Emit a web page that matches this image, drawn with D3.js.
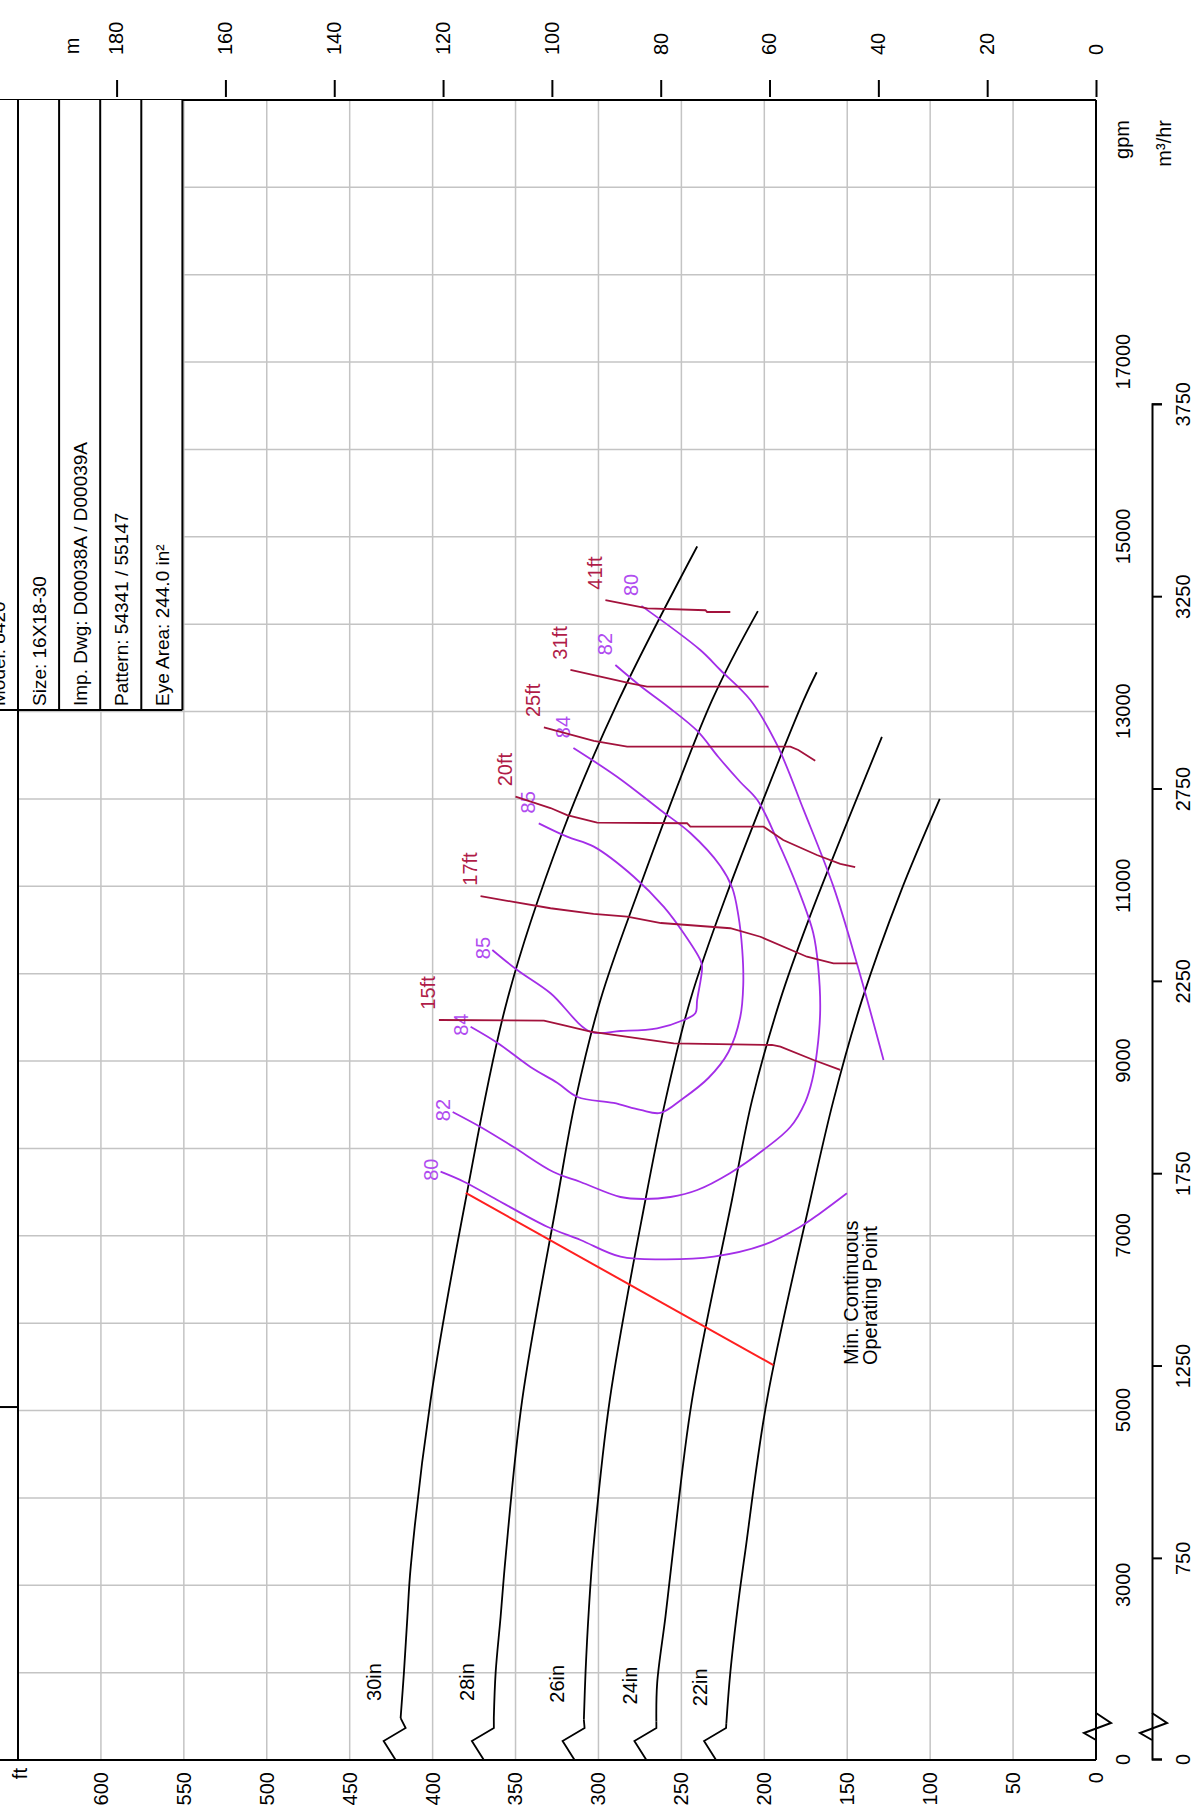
<!DOCTYPE html>
<html><head><meta charset="utf-8">
<script src="https://cdn.jsdelivr.net/npm/d3@7"></script>
<style>
html,body{margin:0;padding:0;background:#fff;}
svg{display:block;font-family:"Liberation Sans",Arial,sans-serif;}
</style></head><body>
<svg id="chart" width="1201" height="1806"></svg>
<script>
// ---------------- DATA ----------------
const GPM_TO_M3H = 0.2271247, FT_TO_M = 0.3048;
const flowDomain = [1000, 20000];          // axis is broken: "0" is drawn at the 1000 gpm position
const headDomain = [0, 650];
const gpmTicks = [1000, 3000, 5000, 7000, 9000, 11000, 13000, 15000, 17000];
const gpmTickLabels = ["0", "3000", "5000", "7000", "9000", "11000", "13000", "15000", "17000"];
const gpmGrid = [2000,3000,4000,5000,6000,7000,8000,9000,10000,11000,12000,13000,14000,15000,16000,17000,18000,19000];
const m3hTicks = [227.1247, 750, 1250, 1750, 2250, 2750, 3250, 3750];
const m3hTickLabels = ["0", "750", "1250", "1750", "2250", "2750", "3250", "3750"];
const headTicks = [0, 50, 100, 150, 200, 250, 300, 350, 400, 450, 500, 550, 600];
const headGrid = [50, 100, 150, 200, 250, 300, 350, 400, 450, 500, 550, 600];
const meterTicks = [0, 20, 40, 60, 80, 100, 120, 140, 160, 180];

const tableRows = ["Model: 8420", "Size: 16X18-30", "Imp. Dwg: D00038A / D00039A", "Pattern: 54341 / 55147", "Eye Area: 244.0 in²"];

// impeller head curves [gpm, ft]
const diameterLabels = ["30in", "28in", "26in", "24in", "22in"];
const shutoffHeads = [422.3, 369.1, 314.4, 271.1, 229.1];
const curve30 = [[1480,419.3],[2000,417.3],[2640,415.2],[3210,413.2],[5120,401.2],[7410,380.1],[9700,355.0],[11610,321.9],[13130,287.8],[14890,240.5]];
const curve28 = [[1480,363.1],[2000,362.0],[2640,359.0],[3320,356.0],[5120,346.0],[7410,324.9],[8550,313.9],[9700,298.8],[10840,278.0],[13130,231.5],[14150,203.9]];
const curve26 = [[1460,308.8],[2000,307.8],[2720,305.8],[3400,303.2],[5120,293.2],[7410,271.7],[8550,259.6],[9700,244.6],[10840,224.0],[13130,176.3],[13450,168.4]];
const curve24 = [[1440,265.1],[1880,264.6],[2640,259.6],[3400,255.0],[5120,243.6],[7410,219.5],[8550,207.4],[9700,190.4],[10630,173.0],[12710,129.1]];
const curve22 = [[1420,222.9],[2000,220.5],[2830,215.5],[3400,211.4],[5120,198.4],[7410,172.3],[8550,158.3],[9700,141.1],[10920,118.1],[12000,94.2]];

// efficiency contours [gpm, ft] (first point = low-flow end)
const eff80Low  = [[7734,395.2],[7619,381.1],[7410,361.0],[7104,330.9],[6952,310.8],[6761,286.7],[6731,260.7],[6761,230.5],[6895,200.4],[7104,178.3],[7258,166.3],[7486,150.2]];
const eff80High = [[9012,128.1],[10119,144.2],[10996,158.3],[11874,176.3],[12618,192.3],[13133,208.4],[13476,226.5],[13705,238.6],[14210,274.1]];
const eff82 = [[8417,387.9],[8245,371.1],[8016,351.2],[7730,327.1],[7616,310.8],[7444,286.7],[7421,272.9],[7444,256.6],[7524,240.4],[7719,220.5],[7982,200.6],[8245,184.3],[8531,175.3],[8783,171.1],[9127,168.1],[9585,166.3],[10077,167.5],[10466,170.5],[10992,180.1],[11530,192.2],[11988,204.2],[12194,214.5],[12480,227.7],[12778,240.4],[13053,257.9],[13293,274.7],[13533,289.8]];
const eff84 = [[9393,377.1],[9207,360.8],[8932,341.0],[8749,324.7],[8589,312.6],[8520,290.9],[8440,274.7],[8406,262.7],[8566,249.4],[8806,233.7],[9104,221.6],[9504,214.5],[9871,212.7],[10271,213.3],[10672,215.7],[10981,219.3],[11233,226.5],[11610,244.6],[11874,262.7],[12251,288.6],[12583,315.1]];
const eff85 = [[10271,364.0],[10042,349.0],[9776,328.9],[9336,304.8],[9344,286.7],[9375,264.6],[9470,248.6],[9547,241.6],[9699,240.5],[10080,237.5],[10157,238.6],[10462,248.6],[10767,260.7],[11110,278.7],[11454,302.8],[11568,318.9],[11721,336.0]];
const effNames = ["80", "80", "82", "84", "85"];
const effLabelLow  = [true, false, true, true, true];
const effLabelHigh = [false, true, true, true, true];

// NPSH required lines [gpm, ft]
const npshLabels = ["15ft", "17ft", "20ft", "25ft", "31ft", "41ft"];
const npsh15 = [[9470,396.2],[9462,332.9],[9413,321.9],[9336,304.8],[9203,254.6],[9184,195.4],[9164,190.3],[9012,170.3],[8898,154.2]];
const npsh17 = [[10889,371.1],[10821,351.2],[10749,328.9],[10684,303.0],[10653,282.7],[10580,262.3],[10520,220.5],[10423,202.4],[10194,174.3],[10119,158.3],[10119,144.2]];
const npsh20 = [[12026,350.0],[11896,328.9],[11815,318.9],[11729,300.8],[11722,246.6],[11683,244.6],[11683,200.4],[11530,188.6],[11358,168.3],[11256,154.2],[11221,145.2]];
const npsh25 = [[12820,332.9],[12664,302.8],[12599,282.7],[12599,184.3],[12561,179.5],[12438,169.3]];
const npsh31 = [[13476,316.9],[13324,280.7],[13285,270.7],[13285,197.4]];
const npsh41 = [[14277,295.8],[14182,270.5],[14160,235.5],[14140,234.5],[14140,220.5]];

// minimum continuous operating point line
const minFlowLine = [[7490,380.0],[5520,194.5]];
const minFlowText = ["Min. Continuous", "Operating Point"];

// ---------------- DRAW ----------------
const W = 1660, H = 1078;
const FONT = 20, TABLE_FONT = 19;
const cEff = "#a32ee8", cEffTxt = "#b04cf0", cNpsh = "#a3123c", cNpshTxt = "#b01c48";

const svg = d3.select("#chart");
svg.append("rect").attr("width",1201).attr("height",1806).attr("fill","#fff");
// chart drawn unrotated, then rotated -90deg (flow runs upward, head runs leftward)
const g = svg.append("g").attr("transform","translate(18,1760) rotate(-90)");

const x = d3.scaleLinear().domain(flowDomain).range([0, W]);
const y = d3.scaleLinear().domain(headDomain).range([H, 0]);
const ym = d3.scaleLinear().domain(headDomain.map(d=>d*FT_TO_M)).range([H, 0]);
const m3End = x(3750 / GPM_TO_M3H);
const xm = d3.scaleLinear().domain([flowDomain[0]*GPM_TO_M3H, 3750]).range([0, m3End]);

// grid
g.append("g").selectAll("line").data(gpmGrid).join("line")
  .attr("x1",d=>x(d)).attr("x2",d=>x(d)).attr("y1",0).attr("y2",H)
  .attr("stroke","#c4c4c4").attr("stroke-width",1.5);
g.append("g").selectAll("line").data(headGrid).join("line")
  .attr("x1",0).attr("x2",W).attr("y1",d=>y(d)).attr("y2",d=>y(d))
  .attr("stroke","#c4c4c4").attr("stroke-width",1.5);

// frame (extends into the clipped title block on the left of the page)
const frame = g.append("g").attr("stroke","#000").attr("stroke-width",2).attr("fill","none");
frame.append("line").attr("x1",0).attr("x2",0).attr("y1",-30).attr("y2",H);
frame.append("line").attr("x1",W).attr("x2",W).attr("y1",-30).attr("y2",H);
frame.append("line").attr("x1",0).attr("x2",W).attr("y1",0).attr("y2",0);
frame.append("line").attr("x1",0).attr("x2",W).attr("y1",H).attr("y2",H);
frame.append("line").attr("x1",x(5040)).attr("x2",x(5040)).attr("y1",-30).attr("y2",0);

// info table
const rowH = 41.1, tableU = 1050;
const tbl = g.append("g");
tbl.append("rect").attr("x",tableU).attr("y",-30).attr("width",W-tableU).attr("height",30+4*rowH).attr("fill","#fff");
tbl.append("line").attr("x1",tableU).attr("x2",tableU).attr("y1",-30).attr("y2",4*rowH).attr("stroke","#000").attr("stroke-width",2);
tbl.selectAll("line.row").data([1,2,3,4]).join("line").attr("class","row")
  .attr("x1",tableU).attr("x2",W).attr("y1",d=>d*rowH).attr("y2",d=>d*rowH)
  .attr("stroke","#000").attr("stroke-width",2);
tbl.selectAll("text").data(tableRows).join("text")
  .attr("x",tableU+4).attr("y",(d,i)=>(i-1)*rowH+28)
  .attr("font-size",TABLE_FONT).attr("fill","#000").text(d=>d);
g.append("line").attr("x1",0).attr("x2",W).attr("y1",0).attr("y2",0).attr("stroke","#000").attr("stroke-width",2);

// axes
const axFlow = g.append("g").attr("transform",`translate(0,${H})`)
  .call(d3.axisBottom(x).tickValues(gpmTicks).tickFormat((d,i)=>gpmTickLabels[i]).tickSize(0).tickPadding(20));
axFlow.select(".domain").remove();
const axM3 = g.append("g").attr("transform",`translate(0,${H+56})`)
  .call(d3.axisBottom(xm).tickValues(m3hTicks).tickFormat((d,i)=>m3hTickLabels[i]).tickSize(10).tickSizeOuter(10).tickPadding(14));
axM3.selectAll("path,line").attr("stroke","#000").attr("stroke-width",2);
const axHead = g.append("g")
  .call(d3.axisLeft(y).tickValues(headTicks).tickFormat(d3.format("d")).tickSize(0).tickPadding(12));
axHead.select(".domain").remove();
const axM = g.append("g").attr("transform",`translate(${W+3},0)`)
  .call(d3.axisRight(ym).tickValues(meterTicks).tickFormat(d3.format("d")).tickSize(17).tickPadding(25));
axM.select(".domain").remove();
axM.selectAll("line").attr("stroke","#000").attr("stroke-width",2);
[axFlow, axM3, axHead, axM].forEach(a => a.attr("font-size",FONT).attr("font-family",null)
  .selectAll("text").attr("fill","#000"));

// axis break marks
const brk = (v) => `M20,${v}L27,${v-12}L37,${v+15}L47,${v}`;
g.append("path").attr("d",brk(H)).attr("fill","none").attr("stroke","#000").attr("stroke-width",2);
g.append("path").attr("d",brk(H+56)).attr("fill","none").attr("stroke","#000").attr("stroke-width",2);

// unit labels
g.append("text").attr("x",-8).attr("y",y(650)+3).attr("dy","0.32em").attr("text-anchor","end").attr("font-size",FONT).text("ft");
g.append("text").attr("x",W+54).attr("y",55).attr("dy","0.32em").attr("text-anchor","middle").attr("font-size",FONT).text("m");
g.append("text").attr("x",W-20).attr("y",H+27).attr("dy","0.32em").attr("text-anchor","end").attr("font-size",FONT).text("gpm");
g.append("text").attr("x",W-20).attr("y",H+69).attr("dy","0.32em").attr("text-anchor","end").attr("font-size",FONT).text("m³/hr");

// head curves
const lineSmooth = d3.line().x(d=>x(d[0])).y(d=>y(d[1])).curve(d3.curveCatmullRom.alpha(0.5));
const lineStraight = d3.line().x(d=>x(d[0])).y(d=>y(d[1]));
const headCurves = [curve30, curve28, curve26, curve24, curve22];
const hc = g.append("g");
headCurves.forEach((pts, i) => {
  const v0 = y(shutoffHeads[i]);
  const p0 = pts[0];
  hc.append("path").attr("d",`M0,${v0}L19,${v0-12}L32,${v0+10}L${x(p0[0])},${y(p0[1])}`)
    .attr("fill","none").attr("stroke","#000").attr("stroke-width",1.8);
  hc.append("path").attr("d",lineSmooth(pts)).attr("fill","none").attr("stroke","#000").attr("stroke-width",1.8);
  hc.append("text").attr("x",x(p0[0])+36).attr("y",y(p0[1])-26).attr("dy","0.32em")
    .attr("text-anchor","middle").attr("font-size",FONT).attr("fill","#000").text(diameterLabels[i]);
});

// efficiency contours
const effCurves = [eff80Low, eff80High, eff82, eff84, eff85];
const ec = g.append("g");
effCurves.forEach((pts, i) => {
  ec.append("path").attr("d",lineSmooth(pts)).attr("fill","none").attr("stroke",cEff).attr("stroke-width",1.8);
  if (effLabelLow[i]) {
    const p = pts[0];
    ec.append("text").attr("x",x(p[0])+2).attr("y",y(p[1])-9).attr("dy","0.32em").attr("text-anchor","middle")
      .attr("font-size",FONT).attr("fill",cEffTxt).text(effNames[i]);
  }
  if (effLabelHigh[i]) {
    const p = pts[pts.length-1];
    ec.append("text").attr("x",x(p[0])+21).attr("y",y(p[1])-10).attr("dy","0.32em").attr("text-anchor","middle")
      .attr("font-size",FONT).attr("fill",cEffTxt).text(effNames[i]);
  }
});

// NPSH lines
const npshCurves = [npsh15, npsh17, npsh20, npsh25, npsh31, npsh41];
const nc = g.append("g");
npshCurves.forEach((pts, i) => {
  nc.append("path").attr("d",lineStraight(pts)).attr("fill","none").attr("stroke",cNpsh).attr("stroke-width",1.8);
  const p = pts[0];
  nc.append("text").attr("x",x(p[0])+27).attr("y",y(p[1])-10).attr("dy","0.32em").attr("text-anchor","middle")
    .attr("font-size",FONT).attr("fill",cNpshTxt).text(npshLabels[i]);
});

// minimum continuous operating point
g.append("path").attr("d",lineStraight(minFlowLine)).attr("fill","none").attr("stroke","#ff2020").attr("stroke-width",2);
const mEnd = minFlowLine[1];
g.selectAll("text.mcop").data(minFlowText).join("text").attr("class","mcop")
  .attr("x",x(mEnd[0])).attr("y",(d,i)=>y(mEnd[1])+85+i*18.5)
  .attr("font-size",FONT).attr("fill","#000").text(d=>d);
</script>
</body></html>
